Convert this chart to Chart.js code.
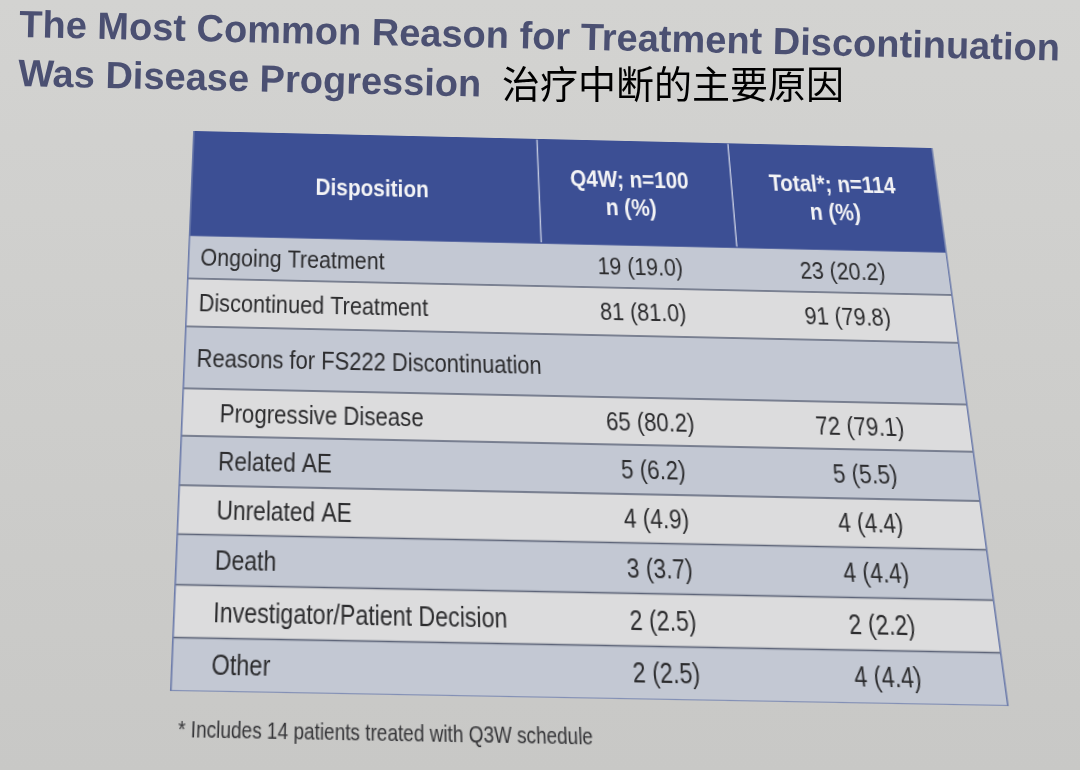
<!DOCTYPE html>
<html>
<head>
<meta charset="utf-8">
<script src="https://cdn.jsdelivr.net/npm/chart.js@4.4.0/dist/chart.umd.min.js"></script>
<style>
  html, body { margin: 0; padding: 0; overflow: hidden; width: 1080px; height: 770px;
               background: linear-gradient(#d3d3d1, #c8c8c6); }
  #dispositionChart { position: absolute; left: 0; top: 0; transform-origin: 0 0; }
  #title { position: absolute; left: 19px; top: 0; font: bold 38px "Liberation Sans", Arial, sans-serif;
           line-height: 49px; color: #4b5072; white-space: nowrap;
           transform-origin: 0 38px; transform: rotate(1.3deg); }
  #cnTitle { position: absolute; left: 502px; top: 63px; font: 38px "Noto Sans CJK SC";
             color: #000; line-height: 1; white-space: nowrap; }
</style>
</head>
<body>
<canvas id="dispositionChart" width="1080" height="770"></canvas>
<div id="title"></div>
<div id="cnTitle">治疗中断的主要原因</div>
<script>
// table content
const titleLines = ['The Most Common Reason for Treatment Discontinuation', 'Was Disease Progression'];
const columnHeaders = [['Disposition'], ['Q4W; n=100', 'n (%)'], ['Total*; n=114', 'n (%)']];
const rowLabels = [
  'Ongoing Treatment', 'Discontinued Treatment', 'Reasons for FS222 Discontinuation',
  'Progressive Disease', 'Related AE', 'Unrelated AE', 'Death',
  'Investigator/Patient Decision', 'Other'
];
const isSubReason = [false, false, false, true, true, true, true, true, true];
const q4wN = [19, 81, null, 65, 5, 4, 3, 2, 2];
const q4wPct = [19.0, 81.0, null, 80.2, 6.2, 4.9, 3.7, 2.5, 2.5];
const totalN = [23, 91, null, 72, 5, 4, 4, 2, 4];
const totalPct = [20.2, 79.8, null, 79.1, 5.5, 4.4, 4.4, 2.2, 4.4];
const footnote = '* Includes 14 patients treated with Q3W schedule';

// layout: x in table units 0..100, y in px of the flat table (header first)
const colEdges = [0, 46.3, 72.2, 100];
const headerX = [24, 58.5, 85.8];
const valueX = [59.2, 85.9];
const rowHeights = [115, 46, 50, 63, 47, 48, 46.5, 47, 48, 47.5];
const HEADER_BLUE = '#3c4f94';
const ROW_DARK = '#c3c8d3';
const ROW_LIGHT = '#dcdcdd';
const LINE = '#5d6478';
const EDGE = '#6d7cab';
const TEXT = '#2c2c2e';
const FONT = '"Liberation Sans", Arial, sans-serif';

// photo perspective: flat table corners -> where they sit in the picture
const flatCorners = [[183, 140], [970, 140], [970, 698], [183, 698]];
const photoCorners = [[194, 131], [932, 148], [1008, 706], [171, 691]];

document.getElementById('title').innerHTML = titleLines.map(t => '<div>' + t + '</div>').join('');

const bounds = [0];
rowHeights.forEach(h => bounds.push(bounds[bounds.length - 1] + h));
const fills = rowHeights.map((h, i) => i === 0 ? HEADER_BLUE : ((i - 1) % 2 === 0 ? ROW_DARK : ROW_LIGHT));

function fmt(n, p) {
  return n === null ? '' : n + ' (' + p.toFixed(1) + ')';
}

function solve(A, B) {
  const n = B.length;
  for (let i = 0; i < n; i++) {
    let p = i;
    for (let r = i + 1; r < n; r++) if (Math.abs(A[r][i]) > Math.abs(A[p][i])) p = r;
    [A[i], A[p]] = [A[p], A[i]];
    [B[i], B[p]] = [B[p], B[i]];
    for (let r = i + 1; r < n; r++) {
      const f = A[r][i] / A[i][i];
      for (let c = i; c < n; c++) A[r][c] -= f * A[i][c];
      B[r] -= f * B[i];
    }
  }
  const h = new Array(n);
  for (let i = n - 1; i >= 0; i--) {
    let s = B[i];
    for (let c = i + 1; c < n; c++) s -= A[i][c] * h[c];
    h[i] = s / A[i][i];
  }
  return h;
}

function perspectiveCss(src, dst) {
  const A = [], B = [];
  for (let i = 0; i < 4; i++) {
    const [x, y] = src[i], [u, v] = dst[i];
    A.push([x, y, 1, 0, 0, 0, -u * x, -u * y]); B.push(u);
    A.push([0, 0, 0, x, y, 1, -v * x, -v * y]); B.push(v);
  }
  const [a, b, c, d, e, f, g, h] = solve(A, B);
  return 'matrix3d(' + [a, d, 0, g, b, e, 0, h, 0, 0, 1, 0, c, f, 0, 1].join(',') + ')';
}

function narrowText(ctx, text, x, y, align, font, color, sx) {
  ctx.save();
  ctx.translate(x, y);
  ctx.scale(sx, 1);
  ctx.font = font;
  ctx.fillStyle = color;
  ctx.textAlign = align;
  ctx.textBaseline = 'middle';
  ctx.fillText(text, 0, 0);
  ctx.restore();
}

const textPlugin = {
  id: 'tableText',
  afterDraw(chart) {
    const { ctx, scales: { x, y } } = chart;

    // header cells
    const hMid = y.getPixelForValue((bounds[0] + bounds[1]) / 2) + 3;
    columnHeaders.forEach((lines, c) => {
      const cx = x.getPixelForValue(headerX[c]);
      lines.forEach((t, k) => {
        const yy = hMid + (k - (lines.length - 1) / 2) * 31;
        narrowText(ctx, t, cx, yy, 'center', 'bold 26px ' + FONT, '#f3f3f5', 0.84);
      });
    });

    // body rows
    const left = x.getPixelForValue(0);
    rowLabels.forEach((label, i) => {
      const yy = y.getPixelForValue((bounds[i + 1] + bounds[i + 2]) / 2) + 2;
      const lx = left + (isSubReason[i] ? 37 : 12);
      narrowText(ctx, label, lx, yy, 'left', '26px ' + FONT, TEXT, 0.85);
      narrowText(ctx, fmt(q4wN[i], q4wPct[i]), x.getPixelForValue(valueX[0]), yy, 'center', '26px ' + FONT, TEXT, 0.85);
      narrowText(ctx, fmt(totalN[i], totalPct[i]), x.getPixelForValue(valueX[1]), yy, 'center', '26px ' + FONT, TEXT, 0.85);
    });

    // footnote
    narrowText(ctx, footnote, left + 8, y.getPixelForValue(bounds[bounds.length - 1]) + 34, 'left', '21px ' + FONT, '#333336', 0.84);
  }
};

// each row boundary is a horizontal line; the band above it is filled to the previous line
const boundaryDatasets = bounds.map((b, k) => ({
  label: 'edge' + k,
  data: [{ x: colEdges[0], y: b }, { x: colEdges[3], y: b }],
  showLine: true,
  pointRadius: 0,
  borderWidth: 1.6,
  borderColor: k <= 1 ? HEADER_BLUE : (k === bounds.length - 1 ? EDGE : LINE),
  fill: k === 0 ? false : '-1',
  backgroundColor: k === 0 ? 'rgba(0,0,0,0)' : fills[k - 1]
}));

const dividerDatasets = [colEdges[1], colEdges[2]].map(v => ({
  label: 'divider',
  data: [{ x: v, y: bounds[0] }, { x: v, y: bounds[1] }],
  showLine: true,
  pointRadius: 0,
  borderWidth: 1.5,
  borderColor: 'rgba(215,220,235,0.85)',
  fill: false
}));

const canvas = document.getElementById('dispositionChart');
canvas.style.transform = perspectiveCss(flatCorners, photoCorners);

new Chart(canvas, {
  type: 'scatter',
  data: { datasets: boundaryDatasets.concat(dividerDatasets) },
  options: {
    responsive: false,
    devicePixelRatio: 1,
    animation: false,
    layout: { padding: { left: 183, right: 110, top: 140, bottom: 72 } },
    plugins: {
      legend: { display: false },
      tooltip: { enabled: false },
      filler: { propagate: false, drawTime: 'beforeDatasetsDraw' }
    },
    scales: {
      y: {
        type: 'linear',
        reverse: true,
        min: bounds[0],
        max: bounds[bounds.length - 1],
        display: false
      },
      x: {
        type: 'linear',
        min: colEdges[0],
        max: colEdges[3],
        ticks: { display: false, stepSize: 100 },
        border: { display: false },
        grid: { drawTicks: false, lineWidth: 1.6, color: EDGE, z: 1 }
      }
    }
  },
  plugins: [textPlugin]
});
</script>
</body>
</html>
